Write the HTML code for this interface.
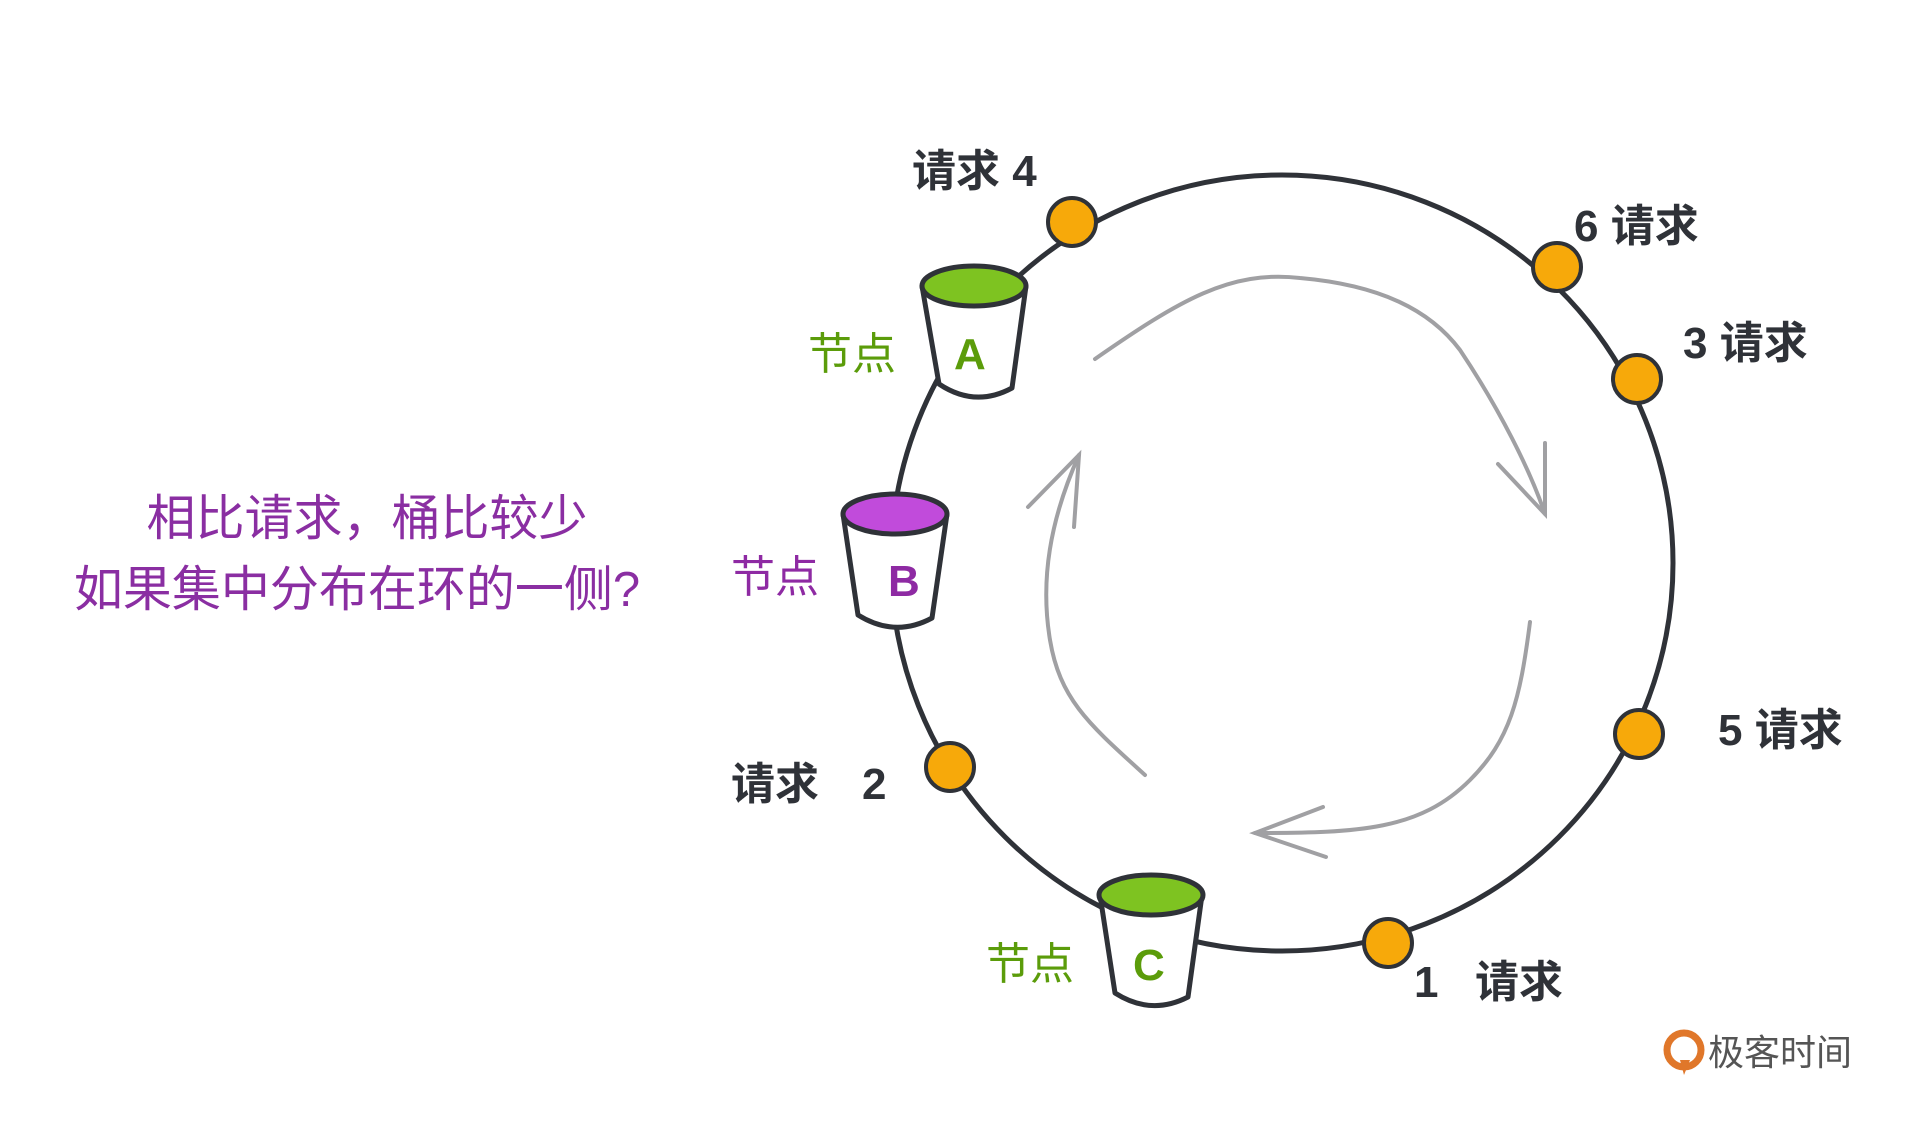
<!DOCTYPE html>
<html><head><meta charset="utf-8"><style>
html,body{margin:0;padding:0;background:#fff;}
svg{display:block}
text{font-family:"Liberation Sans","Noto Sans CJK SC",sans-serif;}
</style></head><body>
<svg width="1920" height="1145" viewBox="0 0 1920 1145" xmlns="http://www.w3.org/2000/svg">
<rect width="1920" height="1145" fill="#fff"/>
<ellipse cx="1282" cy="563" rx="391" ry="388" fill="none" stroke="#2f3238" stroke-width="5"/>
<g fill="none" stroke="#a0a0a3" stroke-width="4" stroke-linecap="round">
<path d="M1095 359 C1180 300 1230 270 1300 278 C1380 285 1430 310 1460 350 C1500 410 1530 470 1545 514"/>
<path d="M1498 464 L1545 514 L1545 443"/>
<path d="M1530 622 C1520 700 1510 740 1470 780 C1420 830 1360 833 1255 833"/>
<path d="M1323 807 L1255 833 L1326 857"/>
<path d="M1145 775 C1090 725 1060 700 1050 640 C1040 580 1050 520 1079 455"/>
<path d="M1028 507 L1079 455 L1074 527"/>
</g>
<g stroke="#2f3238" stroke-width="5" stroke-linejoin="round">
<path d="M922 286 L939 384 Q975 408 1012 388 L1026 286 Z" fill="#fff"/>
<ellipse cx="974" cy="286" rx="52" ry="20" fill="#7ec321"/>
<path d="M843 514 L858 615 Q895 638 932 618 L947 514 Z" fill="#fff"/>
<ellipse cx="895" cy="514" rx="52" ry="20" fill="#c14bdb"/>
<path d="M1100 895 L1115 993 Q1151 1016 1188 997 L1202 895 Z" fill="#fff"/>
<ellipse cx="1151" cy="895" rx="52" ry="20" fill="#7ec321"/>
</g>
<g fill="#f7a90a" stroke="#2f3238" stroke-width="4">
<circle cx="1072" cy="222" r="24"/>
<circle cx="1557" cy="267" r="24"/>
<circle cx="1637" cy="379" r="24"/>
<circle cx="1639" cy="734" r="24"/>
<circle cx="1388" cy="943" r="24"/>
<circle cx="950" cy="767" r="24"/>
</g>
<g font-size="44" fill="#2f3238" font-weight="bold">
<text x="912" y="186">请求 4</text>
<text x="1574" y="241">6 请求</text>
<text x="1683" y="358">3 请求</text>
<text x="1718" y="745">5 请求</text>
<text x="1414" y="997">1</text>
<text x="1475" y="997">请求</text>
<text x="731" y="799">请求</text>
<text x="862" y="799">2</text>
</g>
<g font-size="44" fill="#5b9c0a">
<text x="808" y="369">节点</text>
<text x="986" y="979">节点</text>
</g>
<text x="731" y="592" font-size="44" fill="#8e2aa3">节点</text>
<g font-size="44" font-weight="bold">
<text x="954" y="369" fill="#5b9c0a">A</text>
<text x="888" y="596" fill="#8e2aa3">B</text>
<text x="1133" y="980" fill="#5b9c0a">C</text>
</g>
<g font-size="49" fill="#8a2ea2" text-anchor="middle">
<text x="367" y="535">相比请求，桶比较少</text>
<text x="357" y="606">如果集中分布在环的一侧?</text>
</g>
<circle cx="1684" cy="1050" r="17" fill="none" stroke="#e0772a" stroke-width="7"/>
<path d="M1680 1060 L1684 1075 L1690 1060 Z" fill="#e0772a"/>
<text x="1708" y="1065" font-size="36" fill="#555">极客时间</text>
</svg>
</body></html>
